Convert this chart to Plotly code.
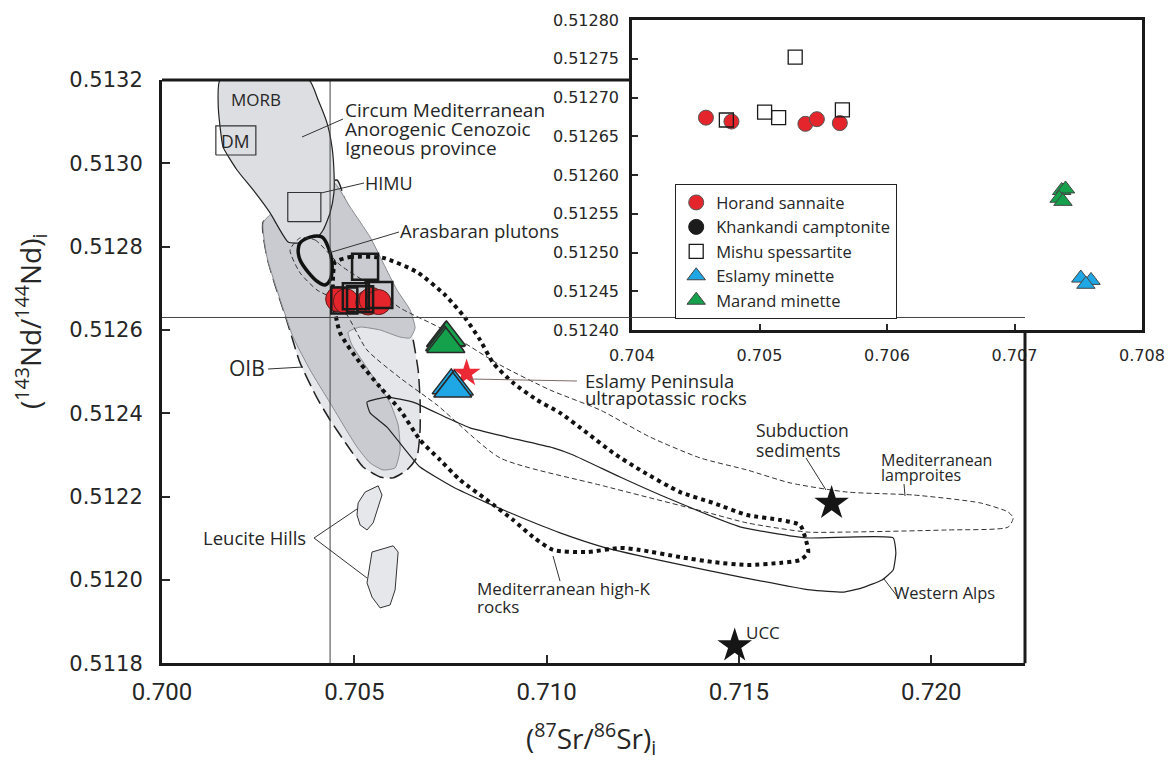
import plotly.graph_objects as go

W, H = 1172, 763

# ---------------- sample data: (87Sr/86Sr)i and (143Nd/144Nd)i ----------------
horand_sr = [0.70458, 0.70478, 0.70536, 0.70545, 0.70563]
horand_nd = [0.512674, 0.512669, 0.512666, 0.512672, 0.512667]
khankandi_sr = [None]
khankandi_nd = [None]
mishu_sr = [0.70474, 0.70504, 0.70515, 0.70528, 0.70565]
mishu_nd = [0.512671, 0.512681, 0.512674, 0.512752, 0.512684]
eslamy_sr = [0.70752, 0.70760, 0.70756]
eslamy_nd = [0.512467, 0.512464, 0.512459]
marand_sr = [0.70737, 0.70740, 0.70735, 0.70738]
marand_nd = [0.512580, 0.512582, 0.512570, 0.512566]

# reference components
eslamy_pen_sr, eslamy_pen_nd = [0.70792], [0.512496]
subduction_sr, subduction_nd = [0.71741], [0.512184]
ucc_sr, ucc_nd = [0.71489], [0.511842]
dm_sr, dm_nd = [0.70140, 0.70244], [0.51302, 0.51309]
himu_sr, himu_nd = [0.70327, 0.70413], [0.51286, 0.51293]
bulk_earth_sr = 0.70437
chur_nd = 0.51263

# ---------------- fields ----------------
morb_sr = [0.70151, 0.70146, 0.70151, 0.70159, 0.70195, 0.70237, 0.70281, 0.70328, 0.70359,
           0.70398, 0.70419, 0.70437, 0.70447, 0.70447, 0.70442, 0.70429, 0.70406, 0.70382]
morb_nd = [0.51320, 0.513145, 0.513087, 0.513039, 0.512984, 0.512936, 0.512881, 0.512811, 0.512809,
           0.512816, 0.512840, 0.512881, 0.512929, 0.512984, 0.513039, 0.513097, 0.513152, 0.51320]

oib_sr = [0.70263, 0.70359, 0.70455, 0.70476, 0.70507, 0.70541, 0.70575, 0.70611, 0.70637, 0.70653,
          0.70666, 0.70671, 0.70671, 0.70663, 0.70637, 0.70601, 0.70567, 0.70523, 0.70481, 0.70437,
          0.70403, 0.70359, 0.70320, 0.70294, 0.70273]
oib_nd = [0.512859, 0.512912, 0.512960, 0.512912, 0.512864, 0.512799, 0.512744, 0.512689, 0.512631,
          0.512576, 0.512504, 0.512432, 0.512360, 0.512295, 0.512264, 0.512245, 0.512247, 0.512271,
          0.512324, 0.512384, 0.512437, 0.512521, 0.512636, 0.512708, 0.512775]

cmaci_sr = [0.70263, 0.70273, 0.70299, 0.70341, 0.70385, 0.70437, 0.70476, 0.70507, 0.70541, 0.70575,
            0.70606, 0.70619, 0.70614, 0.70593, 0.70567, 0.70528, 0.70494, 0.70484, 0.70515, 0.70567,
            0.70619, 0.70645, 0.70658, 0.70645, 0.70611, 0.70575, 0.70541, 0.70489, 0.70445, 0.70359,
            0.70294]
cmaci_nd = [0.512857, 0.512775, 0.512696, 0.512583, 0.512504, 0.512425, 0.512365, 0.512319, 0.512281,
            0.512264, 0.512269, 0.512312, 0.512372, 0.512425, 0.512463, 0.512516, 0.512564, 0.512595,
            0.512607, 0.512600, 0.512583, 0.512581, 0.512605, 0.512648, 0.512696, 0.512761, 0.512823,
            0.512895, 0.512955, 0.512924, 0.512888]

arasbaran_sr = [0.70359, 0.70385, 0.70416, 0.70432, 0.70442, 0.70437, 0.70424, 0.70406, 0.70380,
                0.70359, 0.70354]
arasbaran_nd = [0.512809, 0.512823, 0.512823, 0.512799, 0.512761, 0.512720, 0.512708, 0.512715,
                0.512739, 0.512768, 0.512792]

lamproite_sr = [0.70359, 0.70398, 0.70463, 0.70541, 0.70619, 0.70723, 0.70879, 0.71009, 0.71139,
                0.71269, 0.71399, 0.71521, 0.71633, 0.71781, 0.71953, 0.72127, 0.72200, 0.72213,
                0.72200, 0.72041, 0.71781, 0.71677, 0.71521, 0.71414, 0.71147, 0.70879, 0.70715,
                0.70619, 0.70533, 0.70481, 0.70437, 0.70403, 0.70359, 0.70333]
lamproite_nd = [0.512821, 0.512816, 0.512756, 0.512708, 0.512653, 0.512605, 0.512516, 0.512456,
                0.512408, 0.512343, 0.512293, 0.512264, 0.512233, 0.512211, 0.512204, 0.512185,
                0.512163, 0.512149, 0.512127, 0.512120, 0.512115, 0.512115, 0.512137, 0.512163,
                0.512226, 0.512293, 0.512420, 0.512485, 0.512552, 0.512636, 0.512679, 0.512696,
                0.512737, 0.512792]

highk_sr = [0.70450, 0.70489, 0.70575, 0.70663, 0.70736, 0.70788, 0.70827, 0.70861, 0.70913, 0.70975,
            0.71035, 0.71105, 0.71173, 0.71243, 0.71347, 0.71433, 0.71521, 0.71607, 0.71659, 0.71672,
            0.71680, 0.71659, 0.71607, 0.71521, 0.71433, 0.71347, 0.71243, 0.71191, 0.71105, 0.71017,
            0.70965, 0.70913, 0.70845, 0.70775, 0.70723, 0.70671, 0.70619, 0.70567, 0.70515, 0.70463,
            0.70445, 0.70445]
highk_nd = [0.512763, 0.512775, 0.512773, 0.512739, 0.512684, 0.512629, 0.512576, 0.512521, 0.512473,
            0.512432, 0.512401, 0.512353, 0.512305, 0.512264, 0.512211, 0.512185, 0.512156, 0.512144,
            0.512132, 0.512103, 0.512065, 0.512048, 0.512041, 0.512036, 0.512043, 0.512055, 0.512072,
            0.512077, 0.512067, 0.512072, 0.512103, 0.512144, 0.512192, 0.512240, 0.512288, 0.512336,
            0.512408, 0.512463, 0.512521, 0.512593, 0.512672, 0.512732]

walps_sr = [0.70533, 0.70585, 0.70653, 0.70741, 0.70801, 0.70897, 0.71017, 0.71069, 0.71191, 0.71308,
            0.71505, 0.71674, 0.71901, 0.71908, 0.71901, 0.71872, 0.71820, 0.71773, 0.71685, 0.71505,
            0.71326, 0.71147, 0.71035, 0.70931, 0.70845, 0.70757, 0.70671, 0.70627, 0.70585, 0.70541]
walps_nd = [0.512427, 0.512439, 0.512427, 0.512389, 0.512365, 0.512343, 0.512317, 0.512300, 0.512247,
            0.512199, 0.512127, 0.512101, 0.512101, 0.512065, 0.512024, 0.512000, 0.511981, 0.511971,
            0.511976, 0.512007, 0.512041, 0.512079, 0.512113, 0.512151, 0.512185, 0.512223, 0.512271,
            0.512319, 0.512367, 0.512401]

leucite1_sr = [0.70528, 0.70562, 0.70572, 0.70549, 0.70533, 0.70515, 0.70507, 0.70510]
leucite1_nd = [0.512211, 0.512226, 0.512204, 0.512137, 0.512120, 0.512132, 0.512156, 0.512185]
leucite2_sr = [0.70546, 0.70601, 0.70614, 0.70606, 0.70593, 0.70567, 0.70546, 0.70533]
leucite2_nd = [0.512067, 0.512082, 0.512067, 0.511976, 0.511940, 0.511933, 0.511959, 0.511993]

# axis ticks
main_x_ticks = [0.700, 0.705, 0.710, 0.715, 0.720]
main_y_ticks = [0.5118, 0.5120, 0.5122, 0.5124, 0.5126, 0.5128, 0.5130, 0.5132]
inset_x_ticks = [0.704, 0.705, 0.706, 0.707, 0.708]
inset_y_ticks = [0.51240, 0.51245, 0.51250, 0.51255, 0.51260, 0.51265, 0.51270, 0.51275, 0.51280]

# ---------------- layout geometry (pixels) ----------------
MAIN_L, MAIN_R, MAIN_T, MAIN_B = 162, 1025, 80, 663.3
INS_L, INS_R, INS_T, INS_B = 632, 1142, 20, 330
X_MAX = 0.700 + (MAIN_R - MAIN_L) * 0.000026

def px(x):
    return x / W

def py(y):
    return 1 - y / H

RED, BLUE, GREEN = '#e4262c', '#1ea7e4', '#15a04c'
INK = '#2a2a2a'
TXT = '#262626'
LABEL_FONT = 'Open Sans'

fig = go.Figure()


def field(sr, nd, fill, color, width, dash=None, smooth=0.6):
    xs = list(sr) + [sr[0]]
    ys = list(nd) + [nd[0]]
    fig.add_trace(go.Scatter(
        x=xs, y=ys, mode='lines',
        fill='toself' if fill else 'none', fillcolor=fill,
        line=dict(color=color, width=width, dash=dash,
                  shape='spline' if smooth else 'linear', smoothing=smooth or 0),
        hoverinfo='skip', showlegend=False, xaxis='x', yaxis='y'))


field(oib_sr, oib_nd, '#e5e6e9', '#222222', 1.5, dash='14px,6px', smooth=0.5)
field(cmaci_sr, cmaci_nd, '#c9cbd0', '#8a8c91', 1.0, smooth=0.5)
field(morb_sr, morb_nd, '#dcdee2', '#222222', 1.2, smooth=0.5)
field(arasbaran_sr, arasbaran_nd, '#d2d4d8', '#111111', 3.5, smooth=1.0)
field(leucite1_sr, leucite1_nd, '#e6e7ea', '#333333', 1.0, smooth=0)
field(leucite2_sr, leucite2_nd, '#e6e7ea', '#333333', 1.0, smooth=0)
field(lamproite_sr, lamproite_nd, None, '#333333', 1.0, dash='5px,3px', smooth=0.6)
field(walps_sr, walps_nd, None, '#222222', 1.2, smooth=0.4)
field(highk_sr, highk_nd, None, '#111111', 4, dash='4px,4px', smooth=0.6)

# bulk-earth reference line (under the samples)
fig.add_trace(go.Scatter(x=[bulk_earth_sr, bulk_earth_sr], y=[main_y_ticks[0], main_y_ticks[-1]],
                         mode='lines', line=dict(color='#444444', width=1), hoverinfo='skip',
                         showlegend=False, xaxis='x', yaxis='y'))

# DM and HIMU boxes
for bx, by in ((dm_sr, dm_nd), (himu_sr, himu_nd)):
    fig.add_trace(go.Scatter(x=[bx[0], bx[1], bx[1], bx[0], bx[0]],
                             y=[by[0], by[0], by[1], by[1], by[0]],
                             mode='lines', line=dict(color='#333333', width=1.2),
                             hoverinfo='skip', showlegend=False, xaxis='x', yaxis='y'))

# stars
fig.add_trace(go.Scatter(x=eslamy_pen_sr, y=eslamy_pen_nd, mode='markers',
                         marker=dict(symbol='star', size=21, color='#ec2a35', line=dict(width=0)),
                         showlegend=False, xaxis='x', yaxis='y'))
fig.add_trace(go.Scatter(x=subduction_sr + ucc_sr, y=subduction_nd + ucc_nd, mode='markers',
                         marker=dict(symbol='star', size=26, color='#151515', line=dict(width=0)),
                         cliponaxis=False, showlegend=False, xaxis='x', yaxis='y'))

# samples on the main diagram
fig.add_trace(go.Scatter(x=horand_sr, y=horand_nd, mode='markers', showlegend=False,
                         marker=dict(symbol='circle', size=25, color=RED,
                                     line=dict(color='#5a1c1c', width=1)), xaxis='x', yaxis='y'))
fig.add_trace(go.Scatter(x=mishu_sr, y=mishu_nd, mode='markers', showlegend=False,
                         marker=dict(symbol='square-open', size=26, color='#1a1a1a',
                                     line=dict(color='#1a1a1a', width=2.5)), xaxis='x', yaxis='y'))
fig.add_trace(go.Scatter(x=marand_sr, y=marand_nd, mode='markers', showlegend=False,
                         marker=dict(symbol='triangle-up', size=33, color=GREEN,
                                     line=dict(color=INK, width=1.5)), xaxis='x', yaxis='y'))
fig.add_trace(go.Scatter(x=eslamy_sr, y=eslamy_nd, mode='markers', showlegend=False,
                         marker=dict(symbol='triangle-up', size=33, color=BLUE,
                                     line=dict(color=INK, width=1.5)), xaxis='x', yaxis='y'))

# samples on the inset
fig.add_trace(go.Scatter(x=horand_sr, y=horand_nd, mode='markers', name='Horand sannaite',
                         legendrank=1,
                         marker=dict(symbol='circle', size=15, color=RED, line=dict(color='#555555', width=1)),
                         xaxis='x2', yaxis='y2'))
fig.add_trace(go.Scatter(x=khankandi_sr, y=khankandi_nd, mode='markers', name='Khankandi camptonite',
                         legendrank=2,
                         marker=dict(symbol='circle', size=15, color='#1c1c1c', line=dict(color='#1c1c1c', width=1)),
                         xaxis='x2', yaxis='y2'))
fig.add_trace(go.Scatter(x=mishu_sr, y=mishu_nd, mode='markers', name='Mishu spessartite',
                         legendrank=3,
                         marker=dict(symbol='square-open', size=14, color='#1a1a1a', line=dict(color='#1a1a1a', width=1.3)),
                         xaxis='x2', yaxis='y2'))
fig.add_trace(go.Scatter(x=eslamy_sr, y=eslamy_nd, mode='markers', name='Eslamy minette',
                         legendrank=4,
                         marker=dict(symbol='triangle-up', size=16, color=BLUE, line=dict(color='#444444', width=1)),
                         xaxis='x2', yaxis='y2'))
fig.add_trace(go.Scatter(x=marand_sr, y=marand_nd, mode='markers', name='Marand minette',
                         legendrank=5,
                         marker=dict(symbol='triangle-up', size=16, color=GREEN, line=dict(color='#444444', width=1)),
                         xaxis='x2', yaxis='y2'))

# ---------------- axes ----------------
common = dict(showgrid=False, zeroline=False, ticks='inside', showline=True, automargin=False)
fig.update_layout(
    template='none',
    width=W, height=H, margin=dict(l=0, r=0, t=0, b=0, pad=0, autoexpand=False),
    paper_bgcolor='white', plot_bgcolor='white',
    xaxis=dict(domain=[px(MAIN_L), px(MAIN_R)], range=[main_x_ticks[0], X_MAX], anchor='y',
               tickvals=main_x_ticks, tickformat='.3f', ticklen=8, tickwidth=2, tickcolor=INK,
               linecolor='#1a1a1a', linewidth=3, mirror=False, ticklabelstandoff=5,
               tickfont=dict(family='Roboto', size=24, color=TXT), **common),
    yaxis=dict(domain=[py(MAIN_B), py(MAIN_T)], range=[main_y_ticks[0], main_y_ticks[-1]], anchor='x',
               tickvals=main_y_ticks, tickformat='.4f', ticklen=8, tickwidth=2, tickcolor=INK,
               linecolor='#1a1a1a', linewidth=3, mirror=False, ticklabelstandoff=12,
               tickfont=dict(family='DejaVu Sans', size=21, color=TXT), **common),
    xaxis2=dict(domain=[px(INS_L), px(INS_R)], range=[inset_x_ticks[0], inset_x_ticks[-1]], anchor='y2',
                tickvals=inset_x_ticks, tickformat='.3f', ticklen=6, tickwidth=1.5, tickcolor=INK,
                linecolor='#1a1a1a', linewidth=2.5, mirror=True, ticklabelstandoff=9,
                tickfont=dict(family='DejaVu Sans', size=16, color=TXT), **common),
    yaxis2=dict(domain=[py(INS_B), py(INS_T)], range=[inset_y_ticks[0], inset_y_ticks[-1]], anchor='x2',
                tickvals=inset_y_ticks, tickformat='.5f', ticklen=6, tickwidth=1.5, tickcolor=INK,
                linecolor='#1a1a1a', linewidth=2.5, mirror=True, ticklabelstandoff=7,
                tickfont=dict(family='DejaVu Sans', size=16, color=TXT), **common),
    legend=dict(x=px(675), y=py(184), xanchor='left', yanchor='top', bgcolor='white',
                bordercolor='#222222', borderwidth=1.2, itemsizing='trace', tracegroupgap=0,
                font=dict(family=LABEL_FONT, size=16.5, color=TXT)),
    showlegend=True,
)

# main frame: top edge up to the inset and right edge below it
fig.add_shape(type='line', xref='paper', yref='paper', x0=px(MAIN_L), x1=px(INS_L),
              y0=py(MAIN_T), y1=py(MAIN_T), line=dict(color='#1a1a1a', width=3))
fig.add_shape(type='line', xref='paper', yref='paper', x0=px(MAIN_R), x1=px(MAIN_R),
              y0=py(INS_B), y1=py(MAIN_B), line=dict(color='#1a1a1a', width=3))
# CHUR reference line, running through the inset as in the original
fig.add_shape(type='line', xref='x', yref='y', x0=main_x_ticks[0], x1=X_MAX, y0=chur_nd, y1=chur_nd,
              line=dict(color='#444444', width=1))

# ---------------- labels ----------------
def label(text, x, y, size=17, anchor='left', color=TXT):
    fig.add_annotation(x=px(x), y=py(y), xref='paper', yref='paper', text=text, showarrow=False,
                       xanchor=anchor, yanchor='middle',
                       font=dict(family=LABEL_FONT, size=size, color=color))

def leader(x0, y0, x1, y1, color='#333333'):
    fig.add_shape(type='line', xref='paper', yref='paper', x0=px(x0), y0=py(y0), x1=px(x1), y1=py(y1),
                  line=dict(color=color, width=1))

label('MORB', 256, 99, 17, 'center')
label('Circum Mediterranean', 343, 110, 19)
label('Anorogenic Cenozoic', 343, 129, 19)
label('Igneous province', 343, 148, 19)
label('DM', 235, 141, 17.5, 'center')
label('HIMU', 363, 183, 18)
label('Arasbaran plutons', 398, 231, 18.5)
label('OIB', 247, 368, 21, 'center')
label('Eslamy Peninsula', 583, 380, 18.5)
label('ultrapotassic rocks', 583, 398, 18.5)
label('Subduction', 754, 430, 17.5)
label('sediments', 754, 450, 17.5)
label('Mediterranean', 879, 460, 16)
label('lamproites', 879, 475, 16)
label('Western Alps', 892, 592, 16.5)
label('Mediterranean high-K', 475, 588, 17)
label('rocks', 475, 606, 17)
label('Leucite Hills', 308, 537, 18.5, 'right')
label('UCC', 744, 632, 17)

leader(302, 137, 343, 119)
leader(321, 193, 364, 183)
leader(332, 252, 399, 232)
leader(268, 369, 303, 367)
leader(470, 379, 577, 381, '#7a6a66')
leader(806, 458, 826, 490)
leader(904, 484, 905, 496)
leader(884, 579, 897, 596)
leader(553, 556, 560, 581)
leader(314, 538, 357, 509)
leader(314, 538, 367, 578)

# axis titles
fig.add_annotation(x=px(30), y=py(322), xref='paper', yref='paper', showarrow=False, textangle=-90,
                   xanchor='center', yanchor='middle',
                   text='(<sup>143</sup>Nd/<sup>144</sup>Nd)<sub>i</sub>',
                   font=dict(family=LABEL_FONT, size=28, color=TXT))
fig.add_annotation(x=px(591), y=py(738), xref='paper', yref='paper', showarrow=False,
                   xanchor='center', yanchor='middle',
                   text='(<sup>87</sup>Sr/<sup>86</sup>Sr)<sub>i</sub>',
                   font=dict(family=LABEL_FONT, size=28, color=TXT))

fig.write_html('out.html')
